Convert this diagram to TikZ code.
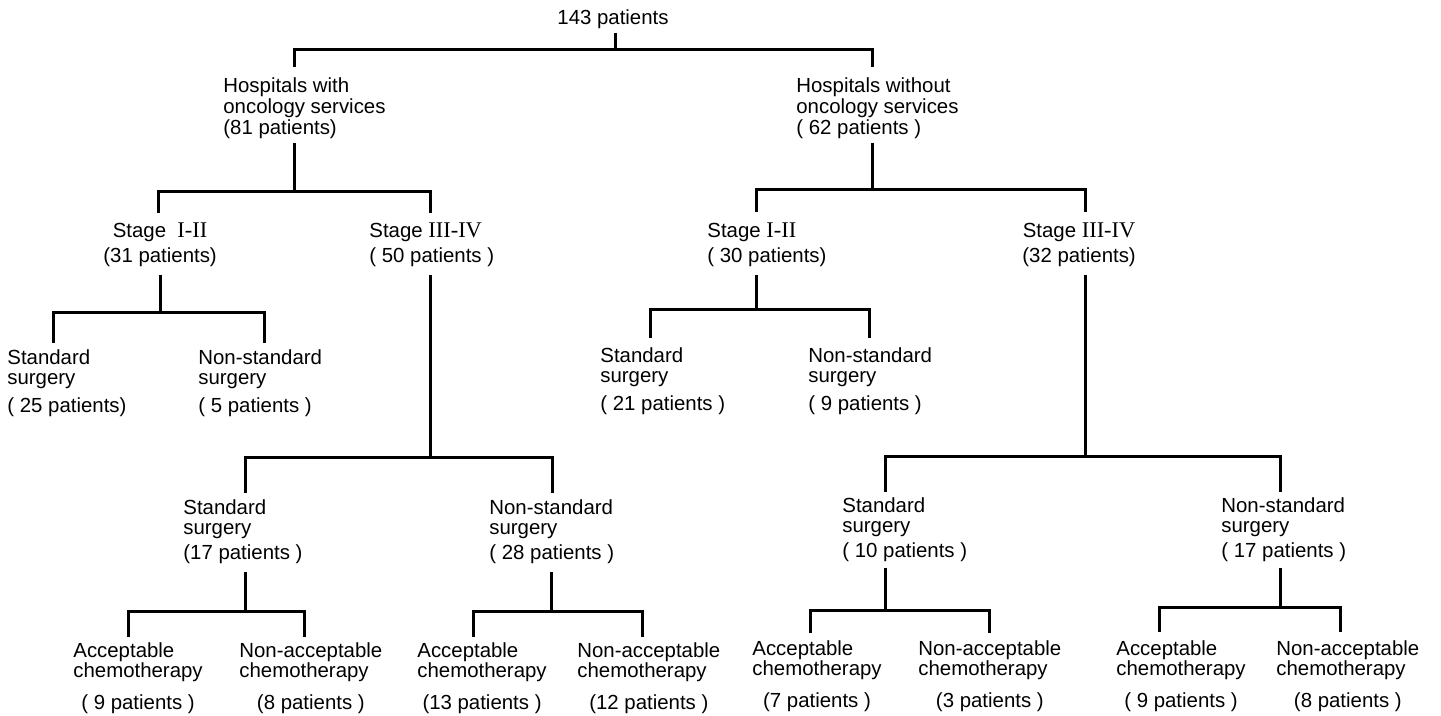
\documentclass[tikz,border=0pt]{standalone}
\usepackage{fontspec}
\setmainfont{Liberation Sans}
\newfontfamily\romfont[Scale=1.1]{Liberation Serif}
\newcommand\threelines[4]{\begin{tabular}[t]{@{}l@{}}#1\\#2\\[#4]#3\end{tabular}}
\newcommand\chemlines[3]{\begin{tabular}[t]{@{}l@{}}#1\\#2\\[5.5pt]\multicolumn{1}{@{}c@{}}{#3}\end{tabular}}
\newcommand\stagelines[3]{\begin{tabular}[t]{@{}#3@{}}#1\\[2pt]#2\end{tabular}}
\newcommand\rn[1]{{\romfont #1}}
\begin{document}
\begin{tikzpicture}[x=0.5pt,y=-0.5pt,
  lbl/.style={inner sep=0pt, anchor=base west, font=\fontsize{10.2pt}{10pt}\selectfont},
  tree/.style={line width=1.5pt}]
\useasboundingbox (0,0) rectangle (1441,716);
\fill[white] (0,0) rectangle (1441,716);

% nodes
\node[lbl, anchor=base] (root) at (613,25) {143 patients};
\node[lbl] (h1) at (223,93) {\threelines{Hospitals with}{oncology services}{(81 patients)}{0pt}};
\node[lbl] (h2) at (796,93) {\threelines{Hospitals without}{oncology services}{( 62 patients )}{0pt}};

\node[lbl] (s1) at (103,238) {\stagelines{Stage \ \rn{I-II}}{(31 patients)}{c}};
\node[lbl] (s2) at (369,238) {\stagelines{Stage \rn{III-IV}}{( 50 patients )}{l}};
\node[lbl] (s3) at (707,238) {\stagelines{Stage \rn{I-II}}{( 30 patients)}{l}};
\node[lbl] (s4) at (1022,238) {\stagelines{Stage \rn{III-IV}}{(32 patients)}{c}};

\node[lbl] (l1) at (7,365) {\threelines{Standard}{surgery}{( 25 patients)}{3.5pt}};
\node[lbl] (l2) at (198,365) {\threelines{Non-standard}{surgery}{( 5 patients )}{3.5pt}};
\node[lbl] (l3) at (600,363) {\threelines{Standard}{surgery}{( 21 patients )}{3.5pt}};
\node[lbl] (l4) at (808,363) {\threelines{Non-standard}{surgery}{( 9 patients )}{3.5pt}};

\node[lbl] (m1) at (183,515) {\threelines{Standard}{surgery}{(17 patients )}{2pt}};
\node[lbl] (m2) at (489,515) {\threelines{Non-standard}{surgery}{( 28 patients )}{2pt}};
\node[lbl] (m3) at (842,513) {\threelines{Standard}{surgery}{( 10 patients )}{2pt}};
\node[lbl] (m4) at (1221,513) {\threelines{Non-standard}{surgery}{( 17 patients )}{2pt}};

\node[lbl] (c1) at (73,657) {\chemlines{Acceptable}{chemotherapy}{( 9 patients )}};
\node[lbl] (c2) at (239,657) {\chemlines{Non-acceptable}{chemotherapy}{(8 patients )}};
\node[lbl] (c3) at (417,657) {\chemlines{Acceptable}{chemotherapy}{(13 patients )}};
\node[lbl] (c4) at (577,657) {\chemlines{Non-acceptable}{chemotherapy}{(12 patients )}};
\node[lbl] (c5) at (752,655) {\chemlines{Acceptable}{chemotherapy}{(7 patients )}};
\node[lbl] (c6) at (918,655) {\chemlines{Non-acceptable}{chemotherapy}{(3 patients )}};
\node[lbl] (c7) at (1116,655) {\chemlines{Acceptable}{chemotherapy}{( 9 patients )}};
\node[lbl] (c8) at (1276,655) {\chemlines{Non-acceptable}{chemotherapy}{(8 patients )}};

% connector points
\coordinate (root-out) at (615,33);  \coordinate (j0) at (615,50);
\coordinate (h1-in) at (294,67);     \coordinate (h2-in) at (872,67);
\coordinate (h1-out) at (294,143);   \coordinate (j1) at (294,192);
\coordinate (s1-in) at (158,213);    \coordinate (s2-in) at (430,213);
\coordinate (h2-out) at (872,143);   \coordinate (j2) at (872,190);
\coordinate (s3-in) at (756,212);    \coordinate (s4-in) at (1085,212);
\coordinate (s1-out) at (160,275);   \coordinate (j3) at (160,313);
\coordinate (l1-in) at (53,343);     \coordinate (l2-in) at (264,343);
\coordinate (s2-out) at (430,275);   \coordinate (j4) at (430,458);
\coordinate (m1-in) at (245,493);    \coordinate (m2-in) at (552,493);
\coordinate (s3-out) at (756,275);   \coordinate (j5) at (756,310);
\coordinate (l3-in) at (650,338);    \coordinate (l4-in) at (869,338);
\coordinate (s4-out) at (1085,275);  \coordinate (j6) at (1085,457);
\coordinate (m3-in) at (885,492);    \coordinate (m4-in) at (1280,492);
\coordinate (m1-out) at (245,572);   \coordinate (j7) at (245,611);
\coordinate (c1-in) at (128,637);    \coordinate (c2-in) at (304,637);
\coordinate (m2-out) at (551,572);   \coordinate (j8) at (551,611);
\coordinate (c3-in) at (473,637);    \coordinate (c4-in) at (642,637);
\coordinate (m3-out) at (885,568);   \coordinate (j9) at (885,610);
\coordinate (c5-in) at (810,633);    \coordinate (c6-in) at (989,633);
\coordinate (m4-out) at (1280,568);  \coordinate (j10) at (1280,607);
\coordinate (c7-in) at (1159,632);   \coordinate (c8-in) at (1340,632);

% connectors
\draw[tree] (root-out) -- (j0);  \draw[tree] (h1-in) |- (j0) -| (h2-in);
\draw[tree] (h1-out) -- (j1);    \draw[tree] (s1-in) |- (j1) -| (s2-in);
\draw[tree] (h2-out) -- (j2);    \draw[tree] (s3-in) |- (j2) -| (s4-in);
\draw[tree] (s1-out) -- (j3);    \draw[tree] (l1-in) |- (j3) -| (l2-in);
\draw[tree] (s2-out) -- (j4);    \draw[tree] (m1-in) |- (j4) -| (m2-in);
\draw[tree] (s3-out) -- (j5);    \draw[tree] (l3-in) |- (j5) -| (l4-in);
\draw[tree] (s4-out) -- (j6);    \draw[tree] (m3-in) |- (j6) -| (m4-in);
\draw[tree] (m1-out) -- (j7);    \draw[tree] (c1-in) |- (j7) -| (c2-in);
\draw[tree] (m2-out) -- (j8);    \draw[tree] (c3-in) |- (j8) -| (c4-in);
\draw[tree] (m3-out) -- (j9);    \draw[tree] (c5-in) |- (j9) -| (c6-in);
\draw[tree] (m4-out) -- (j10);   \draw[tree] (c7-in) |- (j10) -| (c8-in);
\end{tikzpicture}
\end{document}
